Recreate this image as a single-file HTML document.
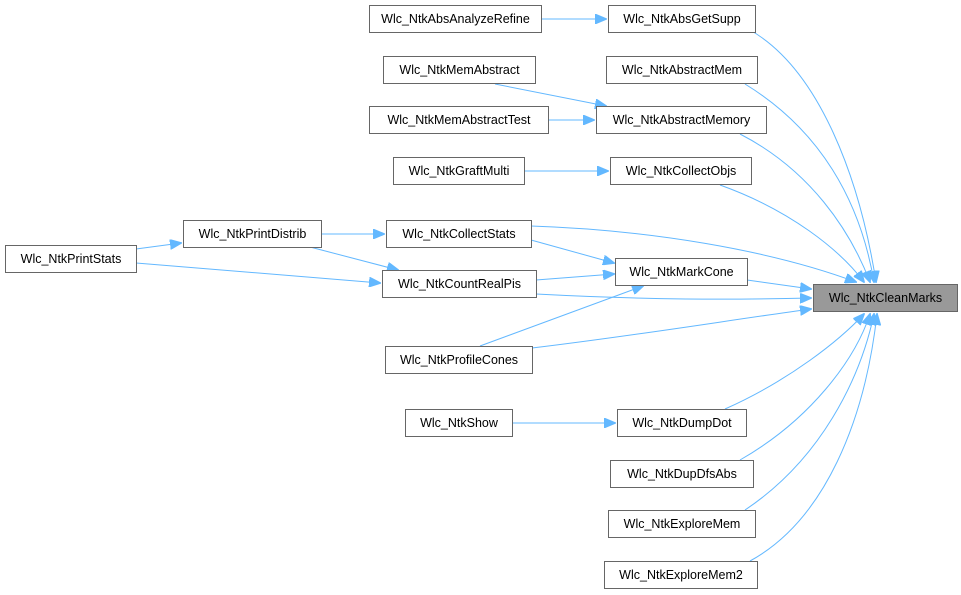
<!DOCTYPE html>
<html><head><meta charset="utf-8"><style>
html,body{margin:0;padding:0;background:#fff;}
svg{display:block;}
text{font-family:"Liberation Sans",sans-serif;font-size:12.5px;fill:#000;}
rect{fill:#fff;stroke:#666;stroke-width:1;}
path{fill:none;stroke:#63b8ff;stroke-width:1;}
</style></head><body>
<svg width="961" height="595" viewBox="0 0 961 595">
<defs><marker id="a" markerWidth="12" markerHeight="10" refX="11" refY="5" orient="auto" markerUnits="userSpaceOnUse"><path d="M0,0 L12,5 L0,10 z" style="fill:#63b8ff;stroke:#63b8ff"/></marker></defs>
<g>
<path d="M541,19 L606,19" marker-end="url(#a)"/>
<path d="M750,30 C820,70 860,180 876,282" marker-end="url(#a)"/>
<path d="M745,84 C820,130 860,200 874,282" marker-end="url(#a)"/>
<path d="M495,84 L606,106" marker-end="url(#a)"/>
<path d="M548,120 L594,120" marker-end="url(#a)"/>
<path d="M740,134 C810,170 850,230 870,282" marker-end="url(#a)"/>
<path d="M524,171 L608,171" marker-end="url(#a)"/>
<path d="M720,185 C790,210 840,250 864,282" marker-end="url(#a)"/>
<path d="M321,234 L384,234" marker-end="url(#a)"/>
<path d="M531,226 C650,230 770,250 856,282" marker-end="url(#a)"/>
<path d="M136,249 L181,243" marker-end="url(#a)"/>
<path d="M136,263 L380,283" marker-end="url(#a)"/>
<path d="M310,247 L398,270" marker-end="url(#a)"/>
<path d="M531,240 L614,263" marker-end="url(#a)"/>
<path d="M536,280 L614,274" marker-end="url(#a)"/>
<path d="M747,280 L811,289" marker-end="url(#a)"/>
<path d="M536,294 C650,300 730,300 811,298" marker-end="url(#a)"/>
<path d="M480,346 L643,286" marker-end="url(#a)"/>
<path d="M532,348 C640,335 730,320 811,309" marker-end="url(#a)"/>
<path d="M512,423 L615,423" marker-end="url(#a)"/>
<path d="M725,409 C790,380 840,340 864,314" marker-end="url(#a)"/>
<path d="M740,460 C810,420 855,360 870,314" marker-end="url(#a)"/>
<path d="M745,510 C820,460 860,380 874,314" marker-end="url(#a)"/>
<path d="M750,561 C825,520 865,420 877,314" marker-end="url(#a)"/>
</g>
<g>
<rect x="369.5" y="5.5" width="172" height="27"/><text x="455.5" y="23" text-anchor="middle">Wlc_NtkAbsAnalyzeRefine</text>
<rect x="608.5" y="5.5" width="147" height="27"/><text x="682" y="23" text-anchor="middle">Wlc_NtkAbsGetSupp</text>
<rect x="606.5" y="56.5" width="151" height="27"/><text x="682" y="74" text-anchor="middle">Wlc_NtkAbstractMem</text>
<rect x="383.5" y="56.5" width="152" height="27"/><text x="459.5" y="74" text-anchor="middle">Wlc_NtkMemAbstract</text>
<rect x="369.5" y="106.5" width="179" height="27"/><text x="459" y="124" text-anchor="middle">Wlc_NtkMemAbstractTest</text>
<rect x="596.5" y="106.5" width="170" height="27"/><text x="681.5" y="124" text-anchor="middle">Wlc_NtkAbstractMemory</text>
<rect x="393.5" y="157.5" width="131" height="27"/><text x="459" y="175" text-anchor="middle">Wlc_NtkGraftMulti</text>
<rect x="610.5" y="157.5" width="141" height="27"/><text x="681" y="175" text-anchor="middle">Wlc_NtkCollectObjs</text>
<rect x="183.5" y="220.5" width="138" height="27"/><text x="252.5" y="238" text-anchor="middle">Wlc_NtkPrintDistrib</text>
<rect x="386.5" y="220.5" width="145" height="27"/><text x="459" y="238" text-anchor="middle">Wlc_NtkCollectStats</text>
<rect x="5.5" y="245.5" width="131" height="27"/><text x="71" y="263" text-anchor="middle">Wlc_NtkPrintStats</text>
<rect x="615.5" y="258.5" width="132" height="27"/><text x="681.5" y="276" text-anchor="middle">Wlc_NtkMarkCone</text>
<rect x="382.5" y="270.5" width="154" height="27"/><text x="459.5" y="288" text-anchor="middle">Wlc_NtkCountRealPis</text>
<rect x="813.5" y="284.5" width="144" height="27" style="fill:#999;stroke:#666"/><text x="885.5" y="302" text-anchor="middle">Wlc_NtkCleanMarks</text>
<rect x="385.5" y="346.5" width="147" height="27"/><text x="459" y="364" text-anchor="middle">Wlc_NtkProfileCones</text>
<rect x="405.5" y="409.5" width="107" height="27"/><text x="459" y="427" text-anchor="middle">Wlc_NtkShow</text>
<rect x="617.5" y="409.5" width="129" height="27"/><text x="682" y="427" text-anchor="middle">Wlc_NtkDumpDot</text>
<rect x="610.5" y="460.5" width="143" height="27"/><text x="682" y="478" text-anchor="middle">Wlc_NtkDupDfsAbs</text>
<rect x="608.5" y="510.5" width="147" height="27"/><text x="682" y="528" text-anchor="middle">Wlc_NtkExploreMem</text>
<rect x="604.5" y="561.5" width="153" height="27"/><text x="681" y="579" text-anchor="middle">Wlc_NtkExploreMem2</text>
</g>
</svg>
</body></html>
